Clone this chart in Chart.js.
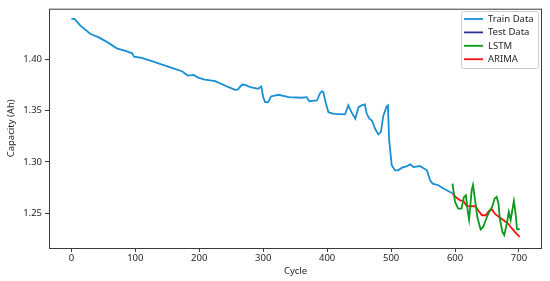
<!DOCTYPE html>
<html>
<head>
<meta charset="utf-8">
<script src="https://cdn.jsdelivr.net/npm/chart.js@4/dist/chart.umd.min.js"></script>
<style>
  html, body { margin: 0; padding: 0; background: #fff; }
  #wrap { width: 550px; height: 281px; }
</style>
</head>
<body>
<div id="wrap"><canvas id="capChart" width="550" height="281"></canvas></div>
<script>
// series
const trainCycles = [0, 5, 14, 30, 43, 58, 71, 87, 95, 98, 110, 126, 142, 157, 173, 182, 191, 199, 209, 225,
    246, 256, 260, 267, 272, 280, 292, 297, 300, 303, 308, 312, 324, 340, 360, 368, 372, 384, 389, 392,
    394, 398, 402, 410, 428, 433, 438, 444, 449, 454, 459, 462, 466, 470, 475, 480, 484, 488, 493, 495,
    497, 501, 506, 511, 517, 524, 530, 535, 545, 556, 561, 565, 574, 582, 592, 596];
const trainCapacity = [1.4397, 1.4397, 1.4332, 1.425, 1.4217, 1.4163, 1.411, 1.408, 1.4061, 1.4029,
    1.4016, 1.3984, 1.3951, 1.3919, 1.3886, 1.3844, 1.385, 1.3821, 1.3805, 1.3789,
    1.373, 1.3704, 1.3706, 1.3756, 1.3753, 1.373, 1.3714, 1.3737, 1.3633, 1.3584,
    1.3584, 1.364, 1.3656, 1.3633, 1.3627, 1.3633, 1.3593, 1.36, 1.3672, 1.3691,
    1.368, 1.3574, 1.3486, 1.347, 1.3464, 1.3552, 1.3486, 1.3422, 1.3535, 1.3552,
    1.3561, 1.347, 1.3422, 1.3405, 1.3324, 1.3269, 1.3291, 1.3454, 1.3542, 1.3552,
    1.321, 1.2967, 1.2918, 1.2918, 1.2944, 1.2957, 1.2976, 1.295, 1.296, 1.2918,
    1.282, 1.2788, 1.2772, 1.274, 1.2706, 1.2695];

const testCycles = [];
const testCapacity = [];

const lstmCycles = [596, 600, 605, 610, 614, 617, 620, 622, 626, 628, 631, 635, 640, 644, 649, 654,
    658, 662, 665, 668, 670, 674, 677, 681, 684, 687, 690, 692, 695, 697, 699, 701];
const lstmCapacity = [1.2788, 1.2609, 1.2544, 1.2544, 1.2658, 1.2674, 1.2512, 1.2437, 1.2723, 1.2775,
    1.2642, 1.2457, 1.234, 1.2365, 1.2447, 1.2521, 1.256, 1.2642, 1.2658, 1.2593, 1.2447, 1.2317,
    1.2285, 1.2398, 1.2512, 1.2431, 1.2544, 1.2619, 1.2479, 1.234, 1.234, 1.235];

const arimaCycles = [596, 602, 608, 613, 618, 626, 632, 637, 642, 648, 653, 658, 663, 670, 678, 683, 689, 695, 701];
const arimaCapacity = [1.269, 1.2652, 1.2625, 1.2619, 1.257, 1.2567, 1.2567, 1.2521, 1.2479, 1.2479,
    1.2521, 1.2534, 1.2489, 1.2457, 1.242, 1.2398, 1.235, 1.2307, 1.2268];

const xTicks = [0, 100, 200, 300, 400, 500, 600, 700];
const yTicks = [1.25, 1.30, 1.35, 1.40];

const FONT = 'Noto Sans';
const TXT = '#262626';

function toPoints(xs, ys) {
    return xs.map((x, i) => ({ x: x, y: ys[i] }));
}

function series(label, xs, ys, color) {
    return {
        label: label,
        data: toPoints(xs, ys),
        borderColor: color,
        backgroundColor: color,
        borderWidth: 1.8,
        pointRadius: 0,
        tension: 0,
        fill: false
    };
}

/* frame + matplotlib style legend */
const framePlugin = {
    id: 'frame',
    afterDraw(chart) {
        const { ctx, chartArea: a } = chart;
        ctx.save();
        ctx.strokeStyle = '#3a3a3a';
        ctx.lineWidth = 1;
        ctx.strokeRect(a.left + 0.5, a.top + 0.5, a.right - a.left - 1, a.bottom - a.top);

        // legend box
        const bx = 461, by = 11, bw = 77, bh = 57;
        ctx.fillStyle = 'rgba(255,255,255,0.9)';
        ctx.strokeStyle = '#cccccc';
        ctx.beginPath();
        ctx.roundRect(bx + 0.5, by + 0.5, bw, bh, 2);
        ctx.fill();
        ctx.stroke();

        ctx.font = '9.5px "' + FONT + '"';
        ctx.textBaseline = 'middle';
        ctx.textAlign = 'left';
        chart.data.datasets.forEach((ds, i) => {
            const y = 19 + i * 13.4;
            ctx.strokeStyle = ds.borderColor;
            ctx.lineWidth = 1.8;
            ctx.beginPath();
            ctx.moveTo(464, y);
            ctx.lineTo(483, y);
            ctx.stroke();
            ctx.fillStyle = TXT;
            ctx.fillText(ds.label, 488, y);
        });
        ctx.restore();
    }
};

const ctx = document.getElementById('capChart').getContext('2d');

new Chart(ctx, {
    type: 'line',
    data: {
        datasets: [
            series('Train Data', trainCycles, trainCapacity, '#1a8fd4'),
            series('Test Data', testCycles, testCapacity, '#2f2f96'),
            series('LSTM', lstmCycles, lstmCapacity, '#0a9a1a'),
            series('ARIMA', arimaCycles, arimaCapacity, '#ff1010')
        ]
    },
    options: {
        responsive: false,
        animation: false,
        layout: { padding: { left: 0, top: 8, right: 8, bottom: 0 } },
        plugins: {
            legend: { display: false },
            tooltip: { enabled: false }
        },
        scales: {
            x: {
                type: 'linear',
                min: -35,
                max: 736,
                afterBuildTicks: (scale) => { scale.ticks = xTicks.map(v => ({ value: v })); },
                afterFit: (scale) => { scale.height = 33; },
                ticks: {
                    color: TXT,
                    font: { family: FONT, size: 9.5 },
                    padding: 1,
                    maxRotation: 0
                },
                grid: { drawOnChartArea: false, drawTicks: true, tickLength: 4, color: '#3a3a3a' },
                border: { display: false },
                title: {
                    display: true,
                    text: 'Cycle',
                    color: TXT,
                    font: { family: FONT, size: 9.5 },
                    padding: { top: 5, bottom: 4 }
                }
            },
            y: {
                type: 'linear',
                min: 1.2159,
                max: 1.4497,
                afterBuildTicks: (scale) => { scale.ticks = yTicks.map(v => ({ value: v })); },
                afterFit: (scale) => { scale.width = 49; },
                ticks: {
                    color: TXT,
                    font: { family: FONT, size: 9.5 },
                    padding: 3,
                    callback: (v) => Number(v).toFixed(2)
                },
                grid: { drawOnChartArea: false, drawTicks: true, tickLength: 4, color: '#3a3a3a' },
                border: { display: false },
                title: {
                    display: true,
                    text: 'Capacity (Ah)',
                    color: TXT,
                    font: { family: FONT, size: 9.5 },
                    padding: { top: 6, bottom: 4 }
                }
            }
        }
    },
    plugins: [framePlugin]
});
</script>
</body>
</html>
